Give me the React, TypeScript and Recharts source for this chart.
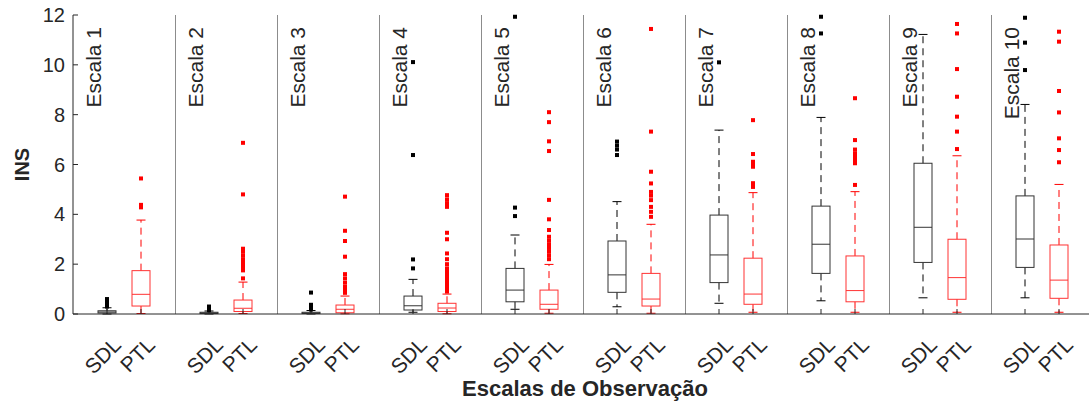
import { ComposedChart, Bar, Scatter, XAxis, YAxis, ReferenceLine } from "recharts";

// panel titles, group labels and y ticks
const panels = ["Escala 1", "Escala 2", "Escala 3", "Escala 4", "Escala 5", "Escala 6", "Escala 7", "Escala 8", "Escala 9", "Escala 10"];
const groups = ["SDL", "PTL"];
const yTicks = [0, 2, 4, 6, 8, 10, 12];

// SDL box stats per scale
const sdlLow = [0, 0, 0, 0.07, 0.19, 0.29, 0.43, 0.53, 0.65, 0.65];
const sdlQ1 = [0.04, 0.02, 0.02, 0.16, 0.49, 0.87, 1.26, 1.63, 2.07, 1.87];
const sdlMed = [0.08, 0.04, 0.04, 0.33, 0.96, 1.57, 2.37, 2.8, 3.48, 3.01];
const sdlQ3 = [0.13, 0.07, 0.07, 0.72, 1.83, 2.93, 3.97, 4.33, 6.05, 4.74];
const sdlHigh = [0.25, 0.12, 0.14, 1.39, 3.17, 4.51, 7.38, 7.89, 11.22, 8.41];
const sdlOutliers = [
  [0.3, 0.35, 0.4, 0.45, 0.5, 0.55, 0.6],
  [0.15, 0.2, 0.25, 0.3],
  [0.18, 0.25, 0.3, 0.37, 0.86],
  [1.83, 2.19, 6.38, 10.11],
  [3.93, 4.27, 11.93],
  [6.38, 6.6, 6.76, 6.92],
  [10.1],
  [11.26, 11.93],
  [],
  [9.79, 10.89, 11.89],
];

// PTL box stats per scale
const ptlLow = [0.02, 0.02, 0.01, 0.01, 0.03, 0.03, 0.07, 0.07, 0.07, 0.07];
const ptlQ1 = [0.32, 0.1, 0.05, 0.1, 0.19, 0.32, 0.39, 0.49, 0.59, 0.63];
const ptlMed = [0.79, 0.23, 0.19, 0.24, 0.39, 0.6, 0.8, 0.94, 1.46, 1.36];
const ptlQ3 = [1.74, 0.56, 0.36, 0.43, 0.96, 1.63, 2.24, 2.33, 3.0, 2.77];
const ptlHigh = [3.77, 1.28, 0.72, 0.8, 1.99, 3.6, 4.87, 4.91, 6.35, 5.2];
const ptlOutliers = [
  [4.28, 4.38, 5.44],
  [1.43, 1.75, 1.85, 1.95, 2.05, 2.2, 2.35, 2.5, 2.62, 4.8, 6.87],
  [0.85, 0.99, 1.1, 1.26, 1.43, 1.6, 2.3, 2.93, 3.34, 4.71],
  [0.9, 1.0, 1.1, 1.2, 1.3, 1.4, 1.5, 1.6, 1.7, 1.83, 2.0, 2.2, 2.43, 3.0, 3.26, 4.3, 4.45, 4.6, 4.77],
  [2.2, 2.35, 2.5, 2.65, 2.8, 2.95, 3.1, 3.37, 3.8, 4.58, 6.54, 6.93, 7.7, 8.1],
  [3.9, 4.1, 4.3, 4.57, 4.75, 4.9, 5.24, 5.71, 7.32, 11.44],
  [5.1, 5.25, 5.91, 6.0, 6.11, 6.42, 7.78],
  [5.18, 6.05, 6.15, 6.25, 6.35, 6.45, 6.6, 6.98, 8.66],
  [6.62, 7.32, 7.92, 8.72, 9.83, 11.26, 11.64],
  [6.09, 6.58, 7.05, 8.09, 8.95, 10.93, 11.33],
];

const FONT = "'Liberation Sans', Arial, Helvetica, sans-serif";
const TEXT = "#262626";
const colors: Record<string, string> = { SDL: "#000000", PTL: "#ff0000" };
const boxStroke: Record<string, string> = { SDL: "#333333", PTL: "#ff3333" };

// each panel is 3 units wide: SDL at 1, PTL at 2, divider at 3
const boxData = panels.flatMap((_, i) => [
  { x: 3 * i + 1, group: "SDL", lo: sdlLow[i], q1: sdlQ1[i], med: sdlMed[i], q3: sdlQ3[i], hi: sdlHigh[i] },
  { x: 3 * i + 2, group: "PTL", lo: ptlLow[i], q1: ptlQ1[i], med: ptlMed[i], q3: ptlQ3[i], hi: ptlHigh[i] },
]);
const sdlPoints = sdlOutliers.flatMap((vals, i) => vals.map((y) => ({ x: 3 * i + 1, y })));
const ptlPoints = ptlOutliers.flatMap((vals, i) => vals.map((y) => ({ x: 3 * i + 2, y })));
const xTicks = boxData.map((d) => d.x);
const dividers = panels.slice(1).map((_, i) => 3 * (i + 1));

function BoxShape(props: any) {
  const { x, y, width, height, payload } = props;
  if (!payload || y == null || height == null) return null;
  const top = Math.min(y, y + height);
  const bottom = Math.max(y, y + height);
  const per = (bottom - top) / (payload.hi - payload.lo);
  const py = (v: number) => bottom - (v - payload.lo) * per;
  const cx = x + width / 2;
  const stroke = boxStroke[payload.group];
  const whisk = colors[payload.group];
  const cap = width / 4;
  return (
    <g>
      <line x1={cx} x2={cx} y1={py(payload.q3)} y2={py(payload.hi)} stroke={whisk} strokeDasharray="7 5" />
      <line x1={cx} x2={cx} y1={py(payload.q1)} y2={py(payload.lo)} stroke={whisk} strokeDasharray="7 5" />
      <line x1={cx - cap} x2={cx + cap} y1={py(payload.hi)} y2={py(payload.hi)} stroke={whisk} />
      <line x1={cx - cap} x2={cx + cap} y1={py(payload.lo)} y2={py(payload.lo)} stroke={whisk} />
      <rect x={x} y={py(payload.q3)} width={width} height={py(payload.q1) - py(payload.q3)} fill="none" stroke={stroke} />
      <line x1={x} x2={x + width} y1={py(payload.med)} y2={py(payload.med)} stroke={stroke} />
    </g>
  );
}

const outlierShape = (color: string) => (p: any) =>
  <rect x={p.cx - 2} y={p.cy - 2} width={4} height={4} fill={color} />;

function GroupTick(props: any) {
  const { x, y, payload } = props;
  const label = groups[(Math.round(payload.value) - 1) % 3];
  const ax = x + 10;
  const ay = y + 22;
  return (
    <text x={ax} y={ay} transform={`rotate(-45, ${ax}, ${ay})`} textAnchor="end" dominantBaseline="central"
      fill={TEXT} fontSize={21} fontFamily={FONT}>
      {label}
    </text>
  );
}

const panelLabel = (name: string) => (p: any) => {
  const vb = p.viewBox;
  const bx = vb.x + 28;
  const by = vb.y + 12;
  return (
    <text x={bx} y={by} transform={`rotate(-90, ${bx}, ${by})`} textAnchor="end" fill={TEXT} fontSize={21} fontFamily={FONT}>
      {name}
    </text>
  );
};

export default function App() {
  return (
    <div style={{ position: "fixed", left: 0, top: 0, width: 1089, height: 401, overflow: "hidden", background: "#fff" }}>
      <ComposedChart width={1110} height={401} data={boxData} margin={{ top: 15, right: 17, bottom: 0, left: 0 }}>
        <XAxis
          dataKey="x"
          type="number"
          domain={[0, 30]}
          ticks={xTicks}
          interval={0}
          height={87}
          stroke={TEXT}
          tickSize={-5}
          tickMargin={10}
          tick={<GroupTick />}
          label={(p: any) => {
            const vb = p.viewBox;
            return (
              <text x={vb.x + vb.width / 2 + 2} y={396} textAnchor="middle" fill={TEXT} fontSize={22} fontWeight="bold" fontFamily={FONT}>
                Escalas de Observação
              </text>
            );
          }}
        />
        <XAxis xAxisId="top" orientation="top" dataKey="x" type="number" domain={[0, 30]} ticks={xTicks} interval={0}
          height={0} stroke={TEXT} tickSize={-5} tick={false} />
        <YAxis
          type="number"
          domain={[0, 12]}
          ticks={yTicks}
          interval={0}
          width={73}
          stroke={TEXT}
          tickSize={-5}
          tickMargin={13}
          tick={{ fill: TEXT, fontSize: 20, fontFamily: FONT }}
          label={(p: any) => {
            const vb = p.viewBox;
            const bx = 29;
            const by = vb.y + vb.height / 2;
            return (
              <text x={bx} y={by} transform={`rotate(-90, ${bx}, ${by})`} textAnchor="middle" fill={TEXT} fontSize={20} fontWeight="bold" fontFamily={FONT}>
                INS
              </text>
            );
          }}
        />
        <YAxis yAxisId="right" orientation="right" type="number" domain={[0, 12]} ticks={yTicks} interval={0} width={0}
          stroke={TEXT} tickSize={-5} tick={false} />
        {dividers.map((d) => (
          <ReferenceLine key={d} x={d} stroke="#8c8c8c" shapeRendering="crispEdges" />
        ))}
        {panels.map((name, i) => (
          <ReferenceLine key={name} x={3 * i} stroke="none" label={panelLabel(name)} />
        ))}
        <Bar dataKey={(d: any) => [d.lo, d.hi]} barSize={18} shape={<BoxShape />} isAnimationActive={false} />
        <Scatter data={sdlPoints} dataKey="y" shape={outlierShape(colors.SDL)} isAnimationActive={false} />
        <Scatter data={ptlPoints} dataKey="y" shape={outlierShape(colors.PTL)} isAnimationActive={false} />
      </ComposedChart>
    </div>
  );
}
